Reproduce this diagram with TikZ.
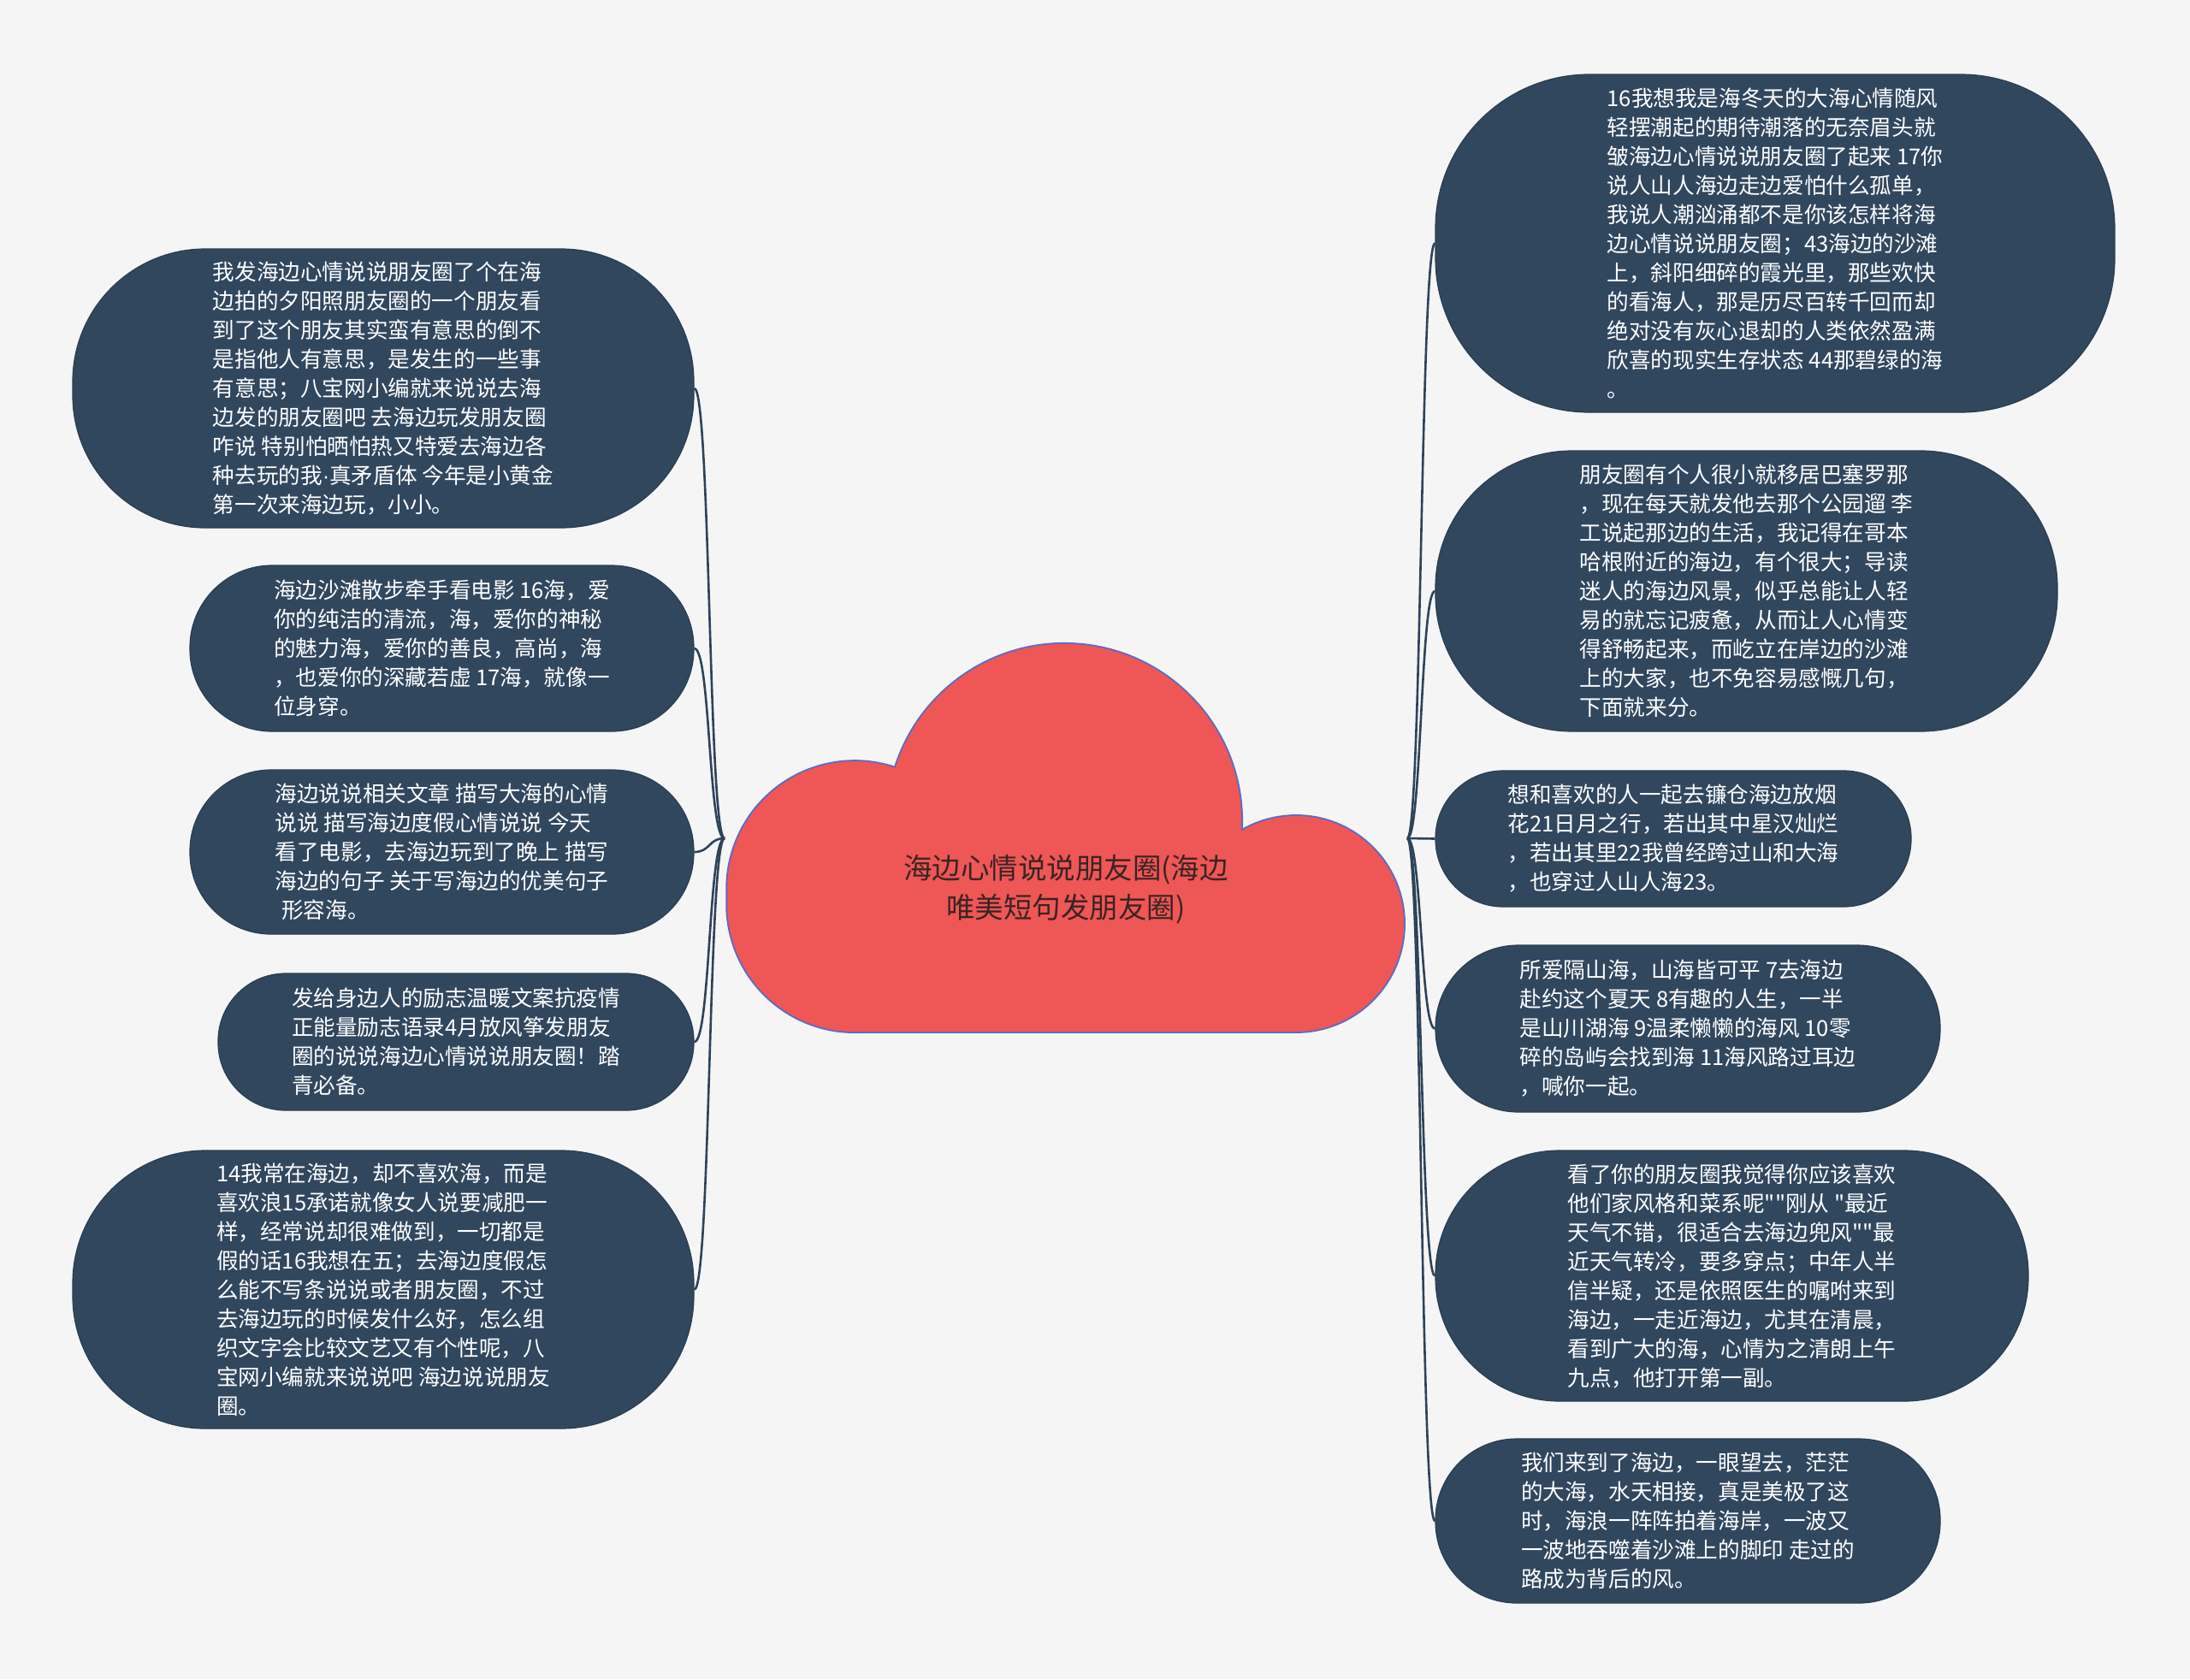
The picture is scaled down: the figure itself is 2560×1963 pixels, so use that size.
\documentclass[tikz,border=0pt]{standalone}
\usepackage{fontspec}
\setmainfont{Noto Sans CJK SC}[Ligatures=TeXOff]
\newfontfamily\latinf{Liberation Sans}
\definecolor{bgcol}{HTML}{F5F5F5}
\definecolor{nodefill}{HTML}{31475E}
\definecolor{nodeedge}{HTML}{2A3D52}
\definecolor{linecol}{HTML}{2E4359}
\definecolor{cloudfill}{HTML}{EF5656}
\definecolor{cloudedge}{HTML}{5A6CC4}
\definecolor{titlecol}{HTML}{3A2424}
\begin{document}
\begin{tikzpicture}[x=1pt,y=-1pt,
  leaf/.style={draw=nodeedge, line width=1.2pt, fill=nodefill, text=white, align=left,
    font=\fontsize{25.6}{34}\selectfont, inner sep=0pt},
  conn/.style={draw=linecol, line width=2.6pt}]
\fill[bgcol] (0,0) rectangle (2560,1963);
\useasboundingbox (0,0) rectangle (2560,1963);

\coordinate (cl) at (847,980);
\coordinate (cr) at (1645,980);

% leaves
\node[leaf, minimum width=726pt, minimum height=326pt, rounded corners=155pt] (L1) at (448,454) {我发海边心情说说朋友圈了个在海\\边拍的夕阳照朋友圈的一个朋友看\\到了这个朋友其实蛮有意思的倒不\\是指他人有意思，是发生的一些事\\有意思；八宝网小编就来说说去海\\边发的朋友圈吧 去海边玩发朋友圈\\咋说 特别怕晒怕热又特爱去海边各\\种去玩的我{\latinf ·}真矛盾体 今年是小黄金\\第一次来海边玩，小小。};
\node[leaf, minimum width=589pt, minimum height=194pt, rounded corners=96pt] (L2) at (516.5,758) {海边沙滩散步牵手看电影 16海，爱\\你的纯洁的清流，海，爱你的神秘\\的魅力海，爱你的善良，高尚，海\\，也爱你的深藏若虚 17海，就像一\\位身穿。};
\node[leaf, minimum width=589pt, minimum height=192pt, rounded corners=95pt] (L3) at (516.5,996) {海边说说相关文章 描写大海的心情\\说说 描写海边度假心情说说 今天\\看了电影，去海边玩到了晚上 描写\\海边的句子 关于写海边的优美句子\\\hspace{0.3em}形容海。};
\node[leaf, minimum width=556pt, minimum height=160pt, rounded corners=79pt] (L4) at (533,1218) {发给身边人的励志温暖文案抗疫情\\正能量励志语录4月放风筝发朋友\\圈的说说海边心情说说朋友圈！踏\\青必备。};
\node[leaf, minimum width=726pt, minimum height=325pt, rounded corners=155pt] (L5) at (448,1507.5) {14我常在海边，却不喜欢海，而是\\喜欢浪15承诺就像女人说要减肥一\\样，经常说却很难做到，一切都是\\假的话16我想在五；去海边度假怎\\么能不写条说说或者朋友圈，不过\\去海边玩的时候发什么好，怎么组\\织文字会比较文艺又有个性呢，八\\宝网小编就来说说吧 海边说说朋友\\圈。};

\node[leaf, minimum width=794pt, minimum height=395pt, rounded corners=180pt] (R1) at (2075,284.5) {16我想我是海冬天的大海心情随风\\轻摆潮起的期待潮落的无奈眉头就\\皱海边心情说说朋友圈了起来 17你\\说人山人海边走边爱怕什么孤单，\\我说人潮汹涌都不是你该怎样将海\\边心情说说朋友圈；43海边的沙滩\\上，斜阳细碎的霞光里，那些欢快\\的看海人，那是历尽百转千回而却\\绝对没有灰心退却的人类依然盈满\\欣喜的现实生存状态 44那碧绿的海\\。};
\node[leaf, minimum width=727pt, minimum height=328pt, rounded corners=160pt] (R2) at (2041.5,691) {朋友圈有个人很小就移居巴塞罗那\\，现在每天就发他去那个公园遛 李\\工说起那边的生活，我记得在哥本\\哈根附近的海边，有个很大；导读\\迷人的海边风景，似乎总能让人轻\\易的就忘记疲惫，从而让人心情变\\得舒畅起来，而屹立在岸边的沙滩\\上的大家，也不免容易感慨几句，\\下面就来分。};
\node[leaf, minimum width=556pt, minimum height=159pt, rounded corners=79pt] (R3) at (1956,980.5) {想和喜欢的人一起去镰仓海边放烟\\花21日月之行，若出其中星汉灿烂\\，若出其里22我曾经跨过山和大海\\，也穿过人山人海23。};
\node[leaf, minimum width=590pt, minimum height=195pt, rounded corners=97pt] (R4) at (1973,1202.5) {所爱隔山海，山海皆可平 7去海边\\赴约这个夏天 8有趣的人生，一半\\是山川湖海 9温柔懒懒的海风 10零\\碎的岛屿会找到海 11海风路过耳边\\，喊你一起。};
\node[leaf, minimum width=693pt, minimum height=293pt, rounded corners=145pt] (R5) at (2024.5,1491.5) {看了你的朋友圈我觉得你应该喜欢\\他们家风格和菜系呢""刚从 "最近\\天气不错，很适合去海边兜风""最\\近天气转冷，要多穿点；中年人半\\信半疑，还是依照医生的嘱咐来到\\海边，一走近海边，尤其在清晨，\\看到广大的海，心情为之清朗上午\\九点，他打开第一副。};
\node[leaf, minimum width=590pt, minimum height=192pt, rounded corners=95pt] (R6) at (1973,1778) {我们来到了海边，一眼望去，茫茫\\的大海，水天相接，真是美极了这\\时，海浪一阵阵拍着海岸，一波又\\一波地吞噬着沙滩上的脚印 走过的\\路成为背后的风。};

% connectors
\foreach \n in {L1,L2,L3,L4,L5}
  \draw[conn] (cl) .. controls +(-19,0) and +(19,0) .. (\n.east);
\foreach \n in {R1,R2,R3,R4,R5,R6}
  \draw[conn] (cr) .. controls +(17,0) and +(-17,0) .. (\n.west);

% cloud
\path[draw=cloudedge, line width=1.8pt, fill=cloudfill]
  (999.1,1207) -- (1515,1207)
  arc[start angle=90, end angle=-119.8, radius=127]
  arc[start angle=2.75, end angle=-162.3, radius=208]
  arc[start angle=-71.8, end angle=-180, radius=150]
  -- ++(0,18)
  arc[start angle=180, end angle=90, radius=150] -- cycle;
\node[font=\fontsize{33.5}{45.7}\selectfont, text=titlecol, align=center, inner sep=0pt] (root) at (1246,1040) {海边心情说说朋友圈(海边\\唯美短句发朋友圈)};
\end{tikzpicture}
\end{document}
